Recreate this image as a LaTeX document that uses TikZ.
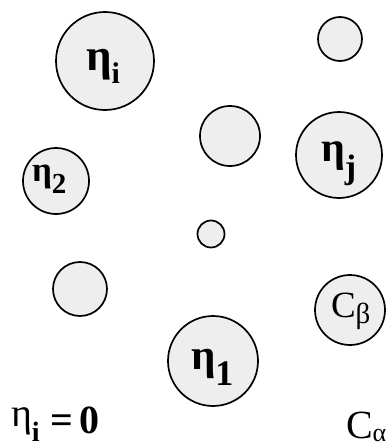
\documentclass[tikz,border=0pt]{standalone}
\usepackage{fontspec}
\setmainfont{Liberation Serif}
\newcommand\fs[1]{\fontsize{#1}{#1}\selectfont}
\newcommand\sub[3]{\raisebox{-#1pt}{\fs{#2}#3}}
\begin{document}
\begin{tikzpicture}[x=1pt,y=-1pt,
  bub/.style={circle,draw=black,line width=1.7pt,fill=gray!13,inner sep=0pt,minimum size=#1},
  gl/.style={anchor=base west,inner sep=0pt,outer sep=0pt}]
\useasboundingbox (0,0) rectangle (387,447);
% circles
\node[bub=98pt] (ci) at (105,61) {};
\node[bub=66pt] (c2) at (56,181) {};
\node[bub=44pt] (ctr) at (340,39) {};
\node[bub=60pt] (cm) at (230,136) {};
\node[bub=86pt] (cj) at (339,155) {};
\node[bub=27pt] (cs) at (211,234) {};
\node[bub=54pt] (cl) at (80,289) {};
\node[bub=90pt] (c1) at (213,361) {};
\node[bub=70pt] (cb) at (350,310) {};
% labels
\node[gl] (li) at (86,70) {\fs{45}\bfseries η\sub{13}{30}{i}};
\node[gl] (lj) at (321,161) {\fs{42}\bfseries η\sub{17}{34}{j}};
\node[gl] (l1) at (191,369) {\fs{43}\bfseries η\sub{16}{36}{1}};
\node[gl] (l2) at (32,181) {\fs{35}\bfseries η\sub{12}{29}{2}};
\node[gl] (lb) at (331,317) {\fs{37}C\sub{6}{29}{β}};
\node[gl] (le) at (11,426) {\fs{40}η\sub{15}{28}{\bfseries i}};
\node[gl] (leq) at (50,433) {\fs{40}\bfseries =\kern7pt0};
\node[gl] (la) at (346,438) {\fs{40}C\sub{3}{26}{α}};
\end{tikzpicture}
\end{document}
